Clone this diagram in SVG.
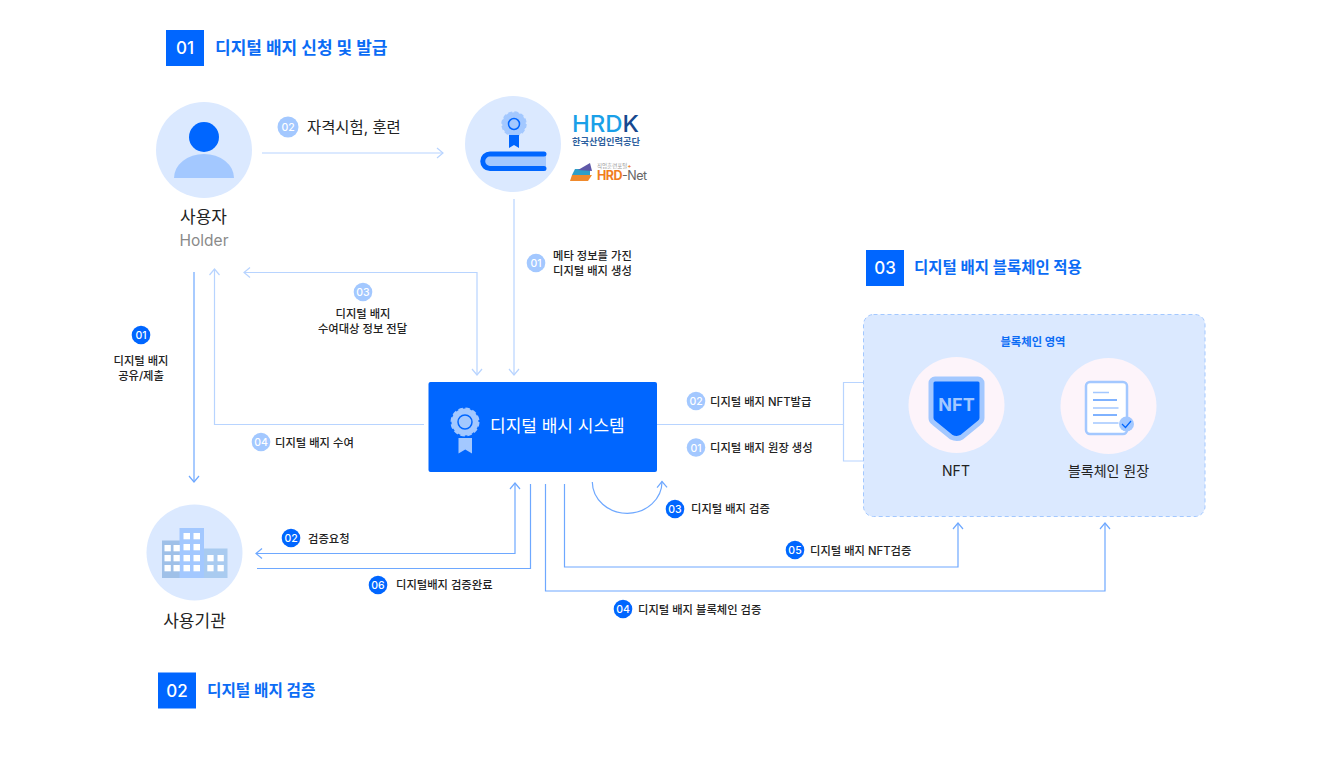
<svg xmlns="http://www.w3.org/2000/svg" width="1320" height="760" viewBox="0 0 1320 760">
<style>
text{font-family:"Inter","Noto Sans CJK KR","Noto Sans",sans-serif}
.hb{fill:#0066ff}
.hn{fill:#fff;font-size:17px;font-weight:500;text-anchor:middle}
.ht{fill:#0b6cf5;font-size:15.700px;font-weight:700}
.lb{fill:#222;font-size:11.300px;font-weight:500}
.lm{text-anchor:middle}
.nm{fill:#222;font-size:17px;font-weight:400;text-anchor:middle}
.bn{fill:#fff;font-size:10.500px;font-weight:500;text-anchor:middle}
.dk{fill:#0066ff}.lt{fill:#a3c8ff}
.c{fill:none;stroke-width:1.200}
.s1{stroke:#b8d4ff}.s2{stroke:#6ea8ff}
.w{fill:#fff}
</style>
<defs>
<marker id="al" viewBox="0 0 12 12" refX="11" refY="6" markerWidth="12" markerHeight="12" markerUnits="userSpaceOnUse" orient="auto-start-reverse"><path d="M5 1L11 6L5 11" fill="none" stroke="#b8d4ff" stroke-width="1.200"/></marker>
<marker id="ad" viewBox="0 0 12 12" refX="11" refY="6" markerWidth="12" markerHeight="12" markerUnits="userSpaceOnUse" orient="auto-start-reverse"><path d="M5 1L11 6L5 11" fill="none" stroke="#6ea8ff" stroke-width="1.200"/></marker>
</defs>
<rect width="1320" height="760" fill="#fff"/>
<g id="connectors">
<path class="c s1" d="M262 153H443" marker-end="url(#al)"/>
<path class="c s1" d="M514 199V375" marker-end="url(#al)"/>
<path class="c s1" d="M244 272.500H477V375" marker-start="url(#al)" marker-end="url(#al)"/>
<path class="c s1" d="M424 424.500H214.500V269" marker-end="url(#al)"/>
<path class="c s2" d="M194 272V482" marker-end="url(#ad)"/>
<path class="c s1" d="M657 424.500H843.500M863 382.500H843.500V461H863"/>
<path class="c s2" d="M592.300 482A34.800 31.500 0 0 0 662 481.500" marker-end="url(#ad)"/>
<path class="c s2" d="M256 553.500H515V483" marker-start="url(#ad)" marker-end="url(#ad)"/>
<path class="c s2" d="M257 568.500H530.500V484"/>
<path class="c s2" d="M545.500 484V591H1105V523" marker-end="url(#ad)"/>
<path class="c s2" d="M564.500 484V567H958V523" marker-end="url(#ad)"/>
</g>
<g id="header-01"><rect class="hb" x="166" y="30" width="38" height="36"/><text class="hn" x="185" y="54">01</text><text class="ht" x="215" y="54" style="font-size:17px">디지털 배지 신청 및 발급</text></g>
<g id="header-02"><rect class="hb" x="158" y="672.500" width="38" height="36"/><text class="hn" x="177" y="696.500">02</text><text class="ht" x="207" y="695.500">디지털 배지 검증</text></g>
<g id="header-03"><rect class="hb" x="866" y="250" width="38" height="36"/><text class="hn" x="885" y="273.500">03</text><text class="ht" x="914" y="272.500" style="font-size:15.500px">디지털 배지 블록체인 적용</text></g>
<g id="holder">
<circle cx="204" cy="150" r="48" fill="#dbe9ff"/>
<circle cx="204" cy="137" r="15" fill="#0066ff"/>
<path d="M174 178A30 24 0 0 1 234 178Z" fill="#a3c8ff"/>
<text class="nm" x="203.500" y="223">사용자</text>
<text x="204" y="246" text-anchor="middle" font-size="15.500" fill="#8a8a8a">Holder</text>
</g>
<g id="issuer">
<circle cx="513" cy="144" r="48" fill="#dbe9ff"/>
<circle cx="514" cy="124" r="11.800" fill="#a3c8ff" stroke="#a3c8ff" stroke-width="1.800" stroke-dasharray="4 2.180"/>
<circle cx="514" cy="124" r="5.500" fill="#a3c8ff" stroke="#0066ff" stroke-width="1.500"/>
<path d="M509 135H519V148L514 145L509 148Z" fill="#0066ff"/>
<path d="M546 156H491A6 6 0 0 0 491 168H546Z" fill="#a3c8ff"/>
<path d="M544 154H490A7.250 7.250 0 0 0 490 168.500H544" fill="none" stroke="#0066ff" stroke-width="5" stroke-linecap="round"/>
<text x="572" y="132" font-size="23" font-weight="500" fill="#1aa0e8" textLength="67" lengthAdjust="spacingAndGlyphs">HRD<tspan fill="#17488f">K</tspan></text>
<text x="572" y="145" font-size="9.500" font-weight="700" fill="#2d5f9e" textLength="68" lengthAdjust="spacingAndGlyphs">한국산업인력공단</text>
<path d="M570 181L572 175H592L588 181Z" fill="#f08a2c"/>
<path d="M572 175L575 169H590L590 175Z" fill="#2f9fc8"/>
<path d="M578 170L590 163L592 171Z" fill="#5f58a8"/>
<text x="597" y="167.500" font-size="5.500" fill="#999">직업훈련포털<tspan fill="#f07d1e" font-weight="700">+</tspan></text>
<text x="597" y="180" font-size="12.500" font-weight="700" fill="#f07d1e" textLength="50">HRD<tspan fill="#666" font-weight="400">-Net</tspan></text>
</g>
<g id="system">
<rect x="428.500" y="382" width="228.500" height="90" rx="2" fill="#0066ff"/>
<circle cx="465" cy="422" r="13.500" fill="#a3c8ff" stroke="#a3c8ff" stroke-width="2" stroke-dasharray="4.500 2.570"/>
<circle cx="465" cy="422" r="7" fill="#a3c8ff" stroke="#0066ff" stroke-width="1.500"/>
<path d="M458.500 438H472V453.500L465.250 449.500L458.500 453.500Z" fill="#a3c8ff"/>
<text x="490" y="432" font-size="17" font-weight="400" fill="#fff">디지털 배시 시스템</text>
</g>
<g id="blockchain">
<rect x="863.500" y="314.500" width="341.500" height="202" rx="10" fill="#dbe9ff" stroke="#a3c8ff" stroke-width="1" stroke-dasharray="4 3"/>
<text x="1033" y="346" text-anchor="middle" font-size="11.300" font-weight="700" fill="#0b6cf5">블록체인 영역</text>
</g>
<g id="nft">
<circle cx="956.500" cy="405" r="48" fill="#fdf4fa"/>
<path d="M935 379H978A4 4 0 0 1 982 383V418Q982 421 979 423L962 437Q957 440 951 437L934 423Q931 421 931 418V383A4 4 0 0 1 935 379Z" fill="#0066ff" stroke="#a3c8ff" stroke-width="5"/>
<text x="956.500" y="411" text-anchor="middle" font-size="18" font-weight="700" fill="#a3c8ff">NFT</text>
<text class="nm" x="956" y="476" style="font-size:14px">NFT</text>
</g>
<g id="ledger">
<circle cx="1108.500" cy="406" r="48" fill="#fdf4fa"/>
<rect x="1086" y="382" width="41" height="52" rx="4" fill="#fff" stroke="#a3c8ff" stroke-width="2.500"/>
<path d="M1093 392.500H1109M1093 408H1118.500M1093 423H1118.500" stroke="#a3c8ff" stroke-width="1.500"/>
<path d="M1093 400H1117M1093 415H1117" stroke="#0066ff" stroke-width="1"/>
<circle cx="1126.500" cy="424" r="7.500" fill="#a3c8ff"/>
<path d="M1122 424L1125.500 427.500L1131 421" fill="none" stroke="#0066ff" stroke-width="1.200"/>
<text class="nm" x="1108.500" y="476" style="font-size:14px">블록체인 원장</text>
</g>
<g id="org">
<circle cx="194.500" cy="552.500" r="48" fill="#dbe9ff"/>
<rect x="162" y="540.500" width="18" height="37.500" fill="#9fc0e8"/>
<rect x="179.500" y="528" width="24.500" height="50" fill="#a3c8ff"/>
<rect x="204" y="548.500" width="23.500" height="29.500" fill="#a9cbf0"/>
<g class="w">
<rect x="164.500" y="545" width="6.300" height="6.300"/><rect x="173.500" y="545" width="6.300" height="6.300"/>
<rect x="164.500" y="555" width="6.300" height="6.300"/><rect x="173.500" y="555" width="6.300" height="6.300"/>
<rect x="164.500" y="565" width="6.300" height="6.300"/><rect x="173.500" y="565" width="6.300" height="6.300"/>
<rect x="183.500" y="533" width="6.500" height="6.300"/><rect x="193.500" y="533" width="6.500" height="6.300"/>
<rect x="183.500" y="544" width="6.500" height="6.300"/><rect x="193.500" y="544" width="6.500" height="6.300"/>
<rect x="183.500" y="555" width="6.500" height="6.300"/><rect x="193.500" y="555" width="6.500" height="6.300"/>
<rect x="183.500" y="565" width="6.500" height="6.300"/><rect x="193.500" y="565" width="6.500" height="6.300"/>
<rect x="207.300" y="555" width="6.300" height="6.300"/><rect x="217.500" y="555" width="6.300" height="6.300"/>
<rect x="207.300" y="565" width="6.300" height="6.300"/><rect x="217.500" y="565" width="6.300" height="6.300"/>
</g>
<text class="nm" x="194.500" y="627">사용기관</text>
</g>
<g id="labels">
<circle class="lt" cx="288" cy="127" r="10.500"/><text class="bn" x="288" y="131">02</text>
<text x="307" y="132.500" font-size="15.400" font-weight="400" fill="#222">자격시험, 훈련</text>
<circle class="lt" cx="536" cy="263" r="9.300"/><text class="bn" x="536" y="267">01</text>
<text class="lb" x="553" y="260">메타 정보를 가진</text><text class="lb" x="553" y="275">디지털 배지 생성</text>
<circle class="lt" cx="363" cy="292" r="9.300"/><text class="bn" x="363" y="296">03</text>
<text class="lb lm" x="363" y="317.500">디지털 배지</text><text class="lb lm" x="362.500" y="332.500">수여대상 정보 전달</text>
<circle class="dk" cx="141" cy="335" r="9.300"/><text class="bn" x="141" y="339">01</text>
<text class="lb lm" x="141" y="364.500">디지털 배지</text><text class="lb lm" x="141" y="380">공유/제출</text>
<circle class="lt" cx="261" cy="442" r="9.300"/><text class="bn" x="261" y="446">04</text>
<text class="lb" x="275" y="446.500">디지털 배지 수여</text>
<circle class="lt" cx="696" cy="401" r="9.300"/><text class="bn" x="696" y="405">02</text>
<text class="lb" x="710" y="405.500">디지털 배지 NFT발급</text>
<circle class="lt" cx="696" cy="447.500" r="9.300"/><text class="bn" x="696" y="451.500">01</text>
<text class="lb" x="710" y="452">디지털 배지 원장 생성</text>
<circle class="dk" cx="675" cy="509" r="9.300"/><text class="bn" x="675" y="513">03</text>
<text class="lb" x="691" y="512.500">디지털 배지 검증</text>
<circle class="dk" cx="795" cy="550" r="9.300"/><text class="bn" x="795" y="554">05</text>
<text class="lb" x="810" y="554.500">디지털 배지 NFT검증</text>
<circle class="dk" cx="623" cy="609" r="9.300"/><text class="bn" x="623" y="613">04</text>
<text class="lb" x="638" y="613.500">디지털 배지 블록체인 검증</text>
<circle class="dk" cx="291" cy="538" r="9.300"/><text class="bn" x="291" y="542">02</text>
<text class="lb" x="308" y="542.500">검증요청</text>
<circle class="dk" cx="378" cy="585" r="9.300"/><text class="bn" x="378" y="589">06</text>
<text class="lb" x="396" y="588.500">디지털배지 검증완료</text>
</g>
</svg>
